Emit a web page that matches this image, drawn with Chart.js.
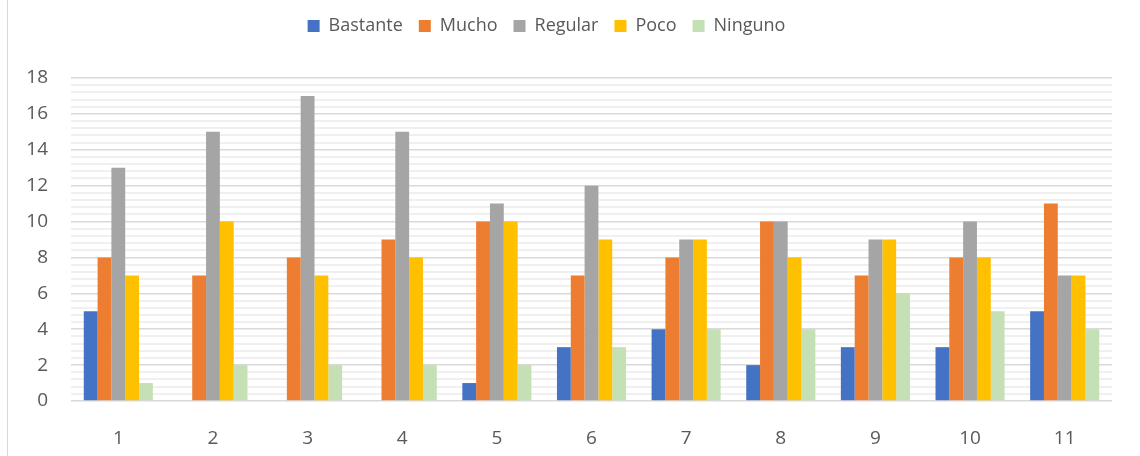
<!DOCTYPE html>
<html>
<head>
<meta charset="utf-8">
<script src="https://cdn.jsdelivr.net/npm/chart.js@4"></script>
<style>
  body { margin: 0; background: #fff; }
  .box { position: relative; width: 1140px; height: 456px; }
  .edge { position: absolute; left: 7px; top: 0; width: 1px; height: 456px; background: #d9d9d9; }
</style>
</head>
<body>
<div class="box">
  <div class="edge"></div>
  <canvas id="myChart" width="1140" height="456"></canvas>
</div>
<script>
const labels = ["1", "2", "3", "4", "5", "6", "7", "8", "9", "10", "11"];
const bastante = [5, 0, 0, 0, 1, 3, 4, 2, 3, 3, 5];
const mucho = [8, 7, 8, 9, 10, 7, 8, 10, 7, 8, 11];
const regular = [13, 15, 17, 15, 11, 12, 9, 10, 9, 10, 7];
const poco = [7, 10, 7, 8, 10, 9, 9, 8, 9, 8, 7];
const ninguno = [1, 2, 2, 2, 2, 3, 4, 4, 6, 5, 4];

const names = ["Bastante", "Mucho", "Regular", "Poco", "Ninguno"];
const colors = ["#4472c4", "#ed7d31", "#a5a5a5", "#ffc000", "#c5e0b4"];
const series = [bastante, mucho, regular, poco, ninguno];

function isMajor(v) {
  return Math.abs(v / 2 - Math.round(v / 2)) < 1e-6;
}

// fixed legend height so the plot starts where the original does,
// then nudge the legend box like in the original
const legendPlace = {
  id: "legendPlace",
  beforeInit(chart) {
    const fit = chart.legend.fit;
    chart.legend.fit = function () {
      fit.call(this);
      this.height = 78;
    };
  },
  afterLayout(chart) {
    const lg = chart.legend;
    lg.top = 1;
    lg.left = -10;
    lg.right = 1103;
  }
};

Chart.defaults.font.family = "'Open Sans', sans-serif";
Chart.defaults.color = "#595959";

new Chart("myChart", {
  type: "bar",
  data: {
    labels: labels,
    datasets: series.map((d, i) => ({
      label: names[i],
      data: d,
      backgroundColor: colors[i],
      categoryPercentage: 0.73,
      barPercentage: 1.0
    }))
  },
  options: {
    responsive: false,
    animation: false,
    layout: { padding: { left: 20, right: 28, top: 0, bottom: 0 } },
    plugins: {
      legend: {
        position: "top",
        labels: {
          boxWidth: 12,
          boxHeight: 12,
          padding: 16,
          font: { size: 18 },
          color: "#595959"
        }
      },
      tooltip: { enabled: false }
    },
    scales: {
      x: {
        grid: { display: false, drawTicks: false },
        border: { display: false },
        ticks: { padding: 26, font: { size: 19 }, color: "#595959" },
        afterFit: (scale) => { scale.height = 55; }
      },
      y: {
        min: 0,
        max: 18,
        border: { display: false },
        grid: {
          drawTicks: false,
          color: (ctx) => isMajor(ctx.tick.value) ? "#d9d9d9" : "#f0f0f0",
          lineWidth: (ctx) => isMajor(ctx.tick.value) ? 1.5 : 2
        },
        ticks: {
          stepSize: 0.4,
          autoSkip: false,
          padding: 23,
          font: { size: 19 },
          color: "#595959",
          callback: (v) => isMajor(v) ? Math.round(v) : ""
        },
        afterFit: (scale) => { scale.width = 51; }
      }
    }
  },
  plugins: [legendPlace]
});
</script>
</body>
</html>
